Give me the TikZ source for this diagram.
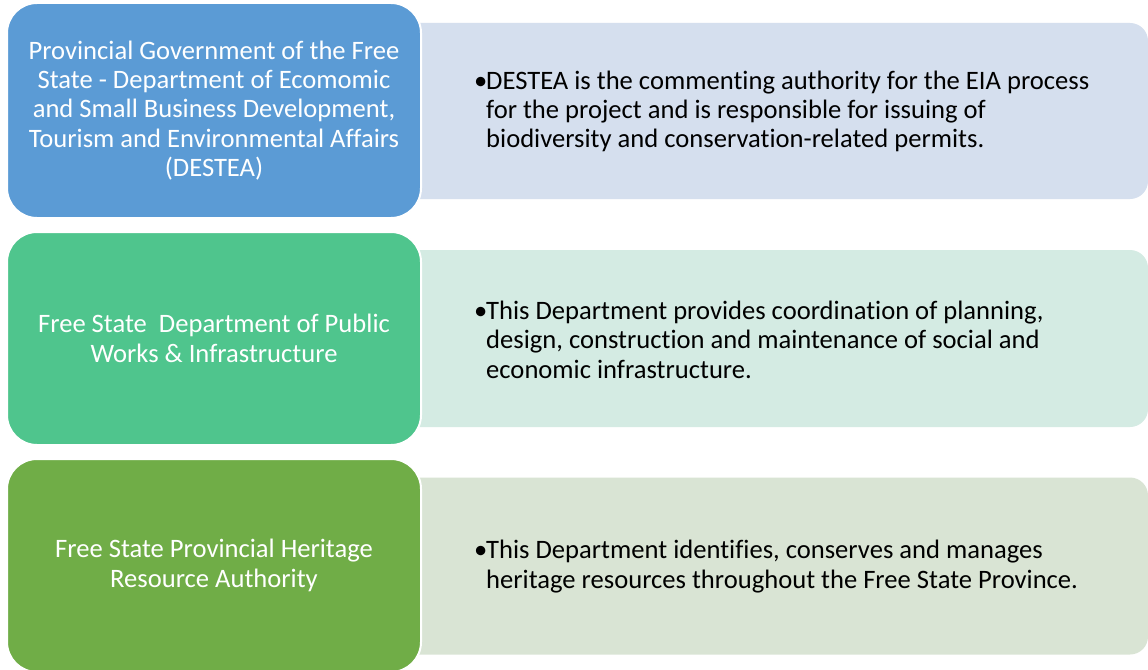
\documentclass[tikz,border=0pt]{standalone}
\usepackage{fontspec}
\setmainfont{Carlito}[Ligatures=NoCommon]
\definecolor{hdblue}{HTML}{5B9BD5}
\definecolor{hdteal}{HTML}{4FC58D}
\definecolor{hdgreen}{HTML}{70AD47}
\definecolor{lgblue}{HTML}{D5DFEE}
\definecolor{lgteal}{HTML}{D4EBE3}
\definecolor{lggreen}{HTML}{D9E4D4}
\tikzset{
  head/.style={rectangle, rounded corners=30pt, draw=white, line width=2pt,
    minimum width=414pt, minimum height=213pt, text=white, align=center,
    font=\fontsize{26.6}{29.4}\selectfont, inner sep=0pt},
  detail/.style={rectangle, rounded corners=18pt, draw=none,
    minimum width=768pt, minimum height=177pt, inner sep=0pt},
  bullettext/.style={anchor=west, align=left, text=black, inner sep=0pt,
    font=\fontsize{26.6}{29.4}\selectfont}
}
\newcommand{\bul}{\makebox[12pt][l]{•}}
\newcommand{\ind}{\hspace*{12pt}}
\begin{document}
\begin{tikzpicture}[x=1pt, y=-1pt]
\useasboundingbox[fill=white] (0,0) rectangle (1148,669);
% description panels behind the headings
\node[detail, fill=lgblue, minimum height=176pt] (d1) at (764,111) {};
\node[detail, fill=lgteal] (d2) at (764,338.5) {};
\node[detail, fill=lggreen] (d3) at (764,566) {};
% headings
\node[head, fill=hdblue, minimum height=215pt] (h1) at (214,110.5)
  {Provincial Government of the Free\\State - Department of Ecomomic\\and Small Business Development,\\Tourism and Environmental Affairs\\(DESTEA)};
\node[head, fill=hdteal] (h2) at (214,338.5)
  {Free State~ Department of Public\\Works \& Infrastructure};
\node[head, fill=hdgreen] (h3) at (214,565.5)
  {Free State Provincial Heritage\\Resource Authority};
% bullet texts
\node[bullettext] (t1) at (474,111.5)
  {\bul DESTEA is the commenting authority for the EIA process\\\ind for the project and is responsible for issuing of\\\ind biodiversity and conservation-related permits.};
\node[bullettext] (t2) at (474,339.5)
  {\bul This Department provides coordination of planning,\\\ind design, construction and maintenance of social and\\\ind economic infrastructure.};
\node[bullettext] (t3) at (474,566.5)
  {\bul This Department identifies, conserves and manages\\\ind heritage resources throughout the Free State Province.};
\end{tikzpicture}
\end{document}
